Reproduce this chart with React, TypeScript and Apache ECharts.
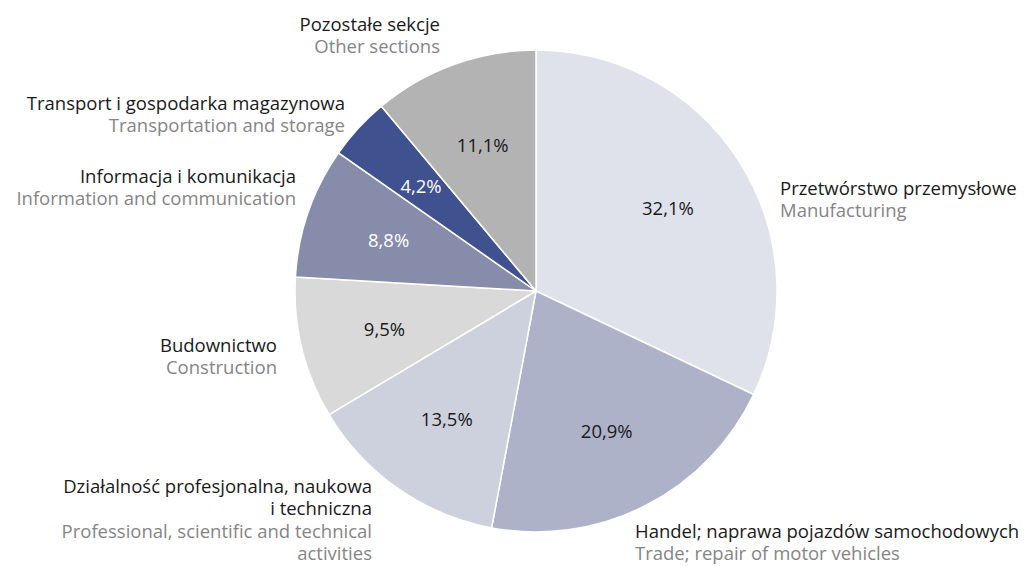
import React, { useEffect, useRef } from "react";
import * as echarts from "echarts";

const namesPl = [
  "Przetwórstwo przemysłowe",
  "Handel; naprawa pojazdów samochodowych",
  "Działalność profesjonalna, naukowa\ni techniczna",
  "Budownictwo",
  "Informacja i komunikacja",
  "Transport i gospodarka magazynowa",
  "Pozostałe sekcje",
];
const namesEn = [
  "Manufacturing",
  "Trade; repair of motor vehicles",
  "Professional, scientific and technical\nactivities",
  "Construction",
  "Information and communication",
  "Transportation and storage",
  "Other sections",
];
const values = [32.1, 20.9, 13.5, 9.5, 8.8, 4.2, 11.1];
const colors = ["#dfe2ea", "#adb2c8", "#cdd1dd", "#d9d9d9", "#868ca9", "#3f518e", "#b3b3b3"];
const pctColors = ["#1a1a1a", "#1a1a1a", "#1a1a1a", "#1a1a1a", "#ffffff", "#ffffff", "#1a1a1a"];

// label block anchors (layout): [x, top y, align]
const labelAnchors: [number, number, string][] = [
  [780, 176, "left"],
  [635, 519, "left"],
  [372, 474, "right"],
  [277, 333, "right"],
  [296, 164, "right"],
  [345, 91, "right"],
  [440, 12, "right"],
];

const FONT = "'Open Sans', sans-serif";

export default function App() {
  const ref = useRef<HTMLDivElement>(null);
  useEffect(() => {
    document.body.style.margin = "0";
    const chart = echarts.init(ref.current!, null, { renderer: "svg" });
    const fmtLines = (s: string, key: string) =>
      s.split("\n").map((l) => `{${key}|${l}}`).join("\n");
    chart.setOption({
      animation: false,
      backgroundColor: "#ffffff",
      series: [
        {
          type: "pie",
          center: [536, 291],
          radius: 241,
          startAngle: 90,
          clockwise: true,
          avoidLabelOverlap: false,
          silent: true,
          itemStyle: { borderColor: "#ffffff", borderWidth: 1.5 },
          labelLine: { show: false },
          label: {
            show: true,
            position: "outside",
            fontFamily: FONT,
            formatter: (p: any) =>
              fmtLines(namesPl[p.dataIndex], "a") + "\n" + fmtLines(namesEn[p.dataIndex], "b"),
            rich: {
              a: { fontFamily: FONT, fontSize: 18.5, color: "#1a1a1a", lineHeight: 22.5 },
              b: { fontFamily: FONT, fontSize: 18.5, color: "#858585", lineHeight: 22.5 },
            },
          },
          labelLayout: (p: any) => {
            const a = labelAnchors[p.dataIndex];
            return { x: a[0], y: a[1], align: a[2], verticalAlign: "top", hideOverlap: false };
          },
          data: values.map((v, i) => ({
            value: v,
            name: namesPl[i],
            itemStyle: { color: colors[i] },
          })),
        },
        {
          type: "pie",
          center: [536, 291],
          radius: 306,
          startAngle: 90,
          clockwise: true,
          avoidLabelOverlap: false,
          silent: true,
          itemStyle: { color: "rgba(0,0,0,0)", borderWidth: 0 },
          labelLine: { show: false },
          label: {
            show: true,
            position: "inside",
            fontFamily: FONT,
            fontSize: 18.5,
            formatter: (p: any) => p.value.toFixed(1).replace(".", ",") + "%",
          },
          data: values.map((v, i) => ({
            value: v,
            name: namesEn[i],
            label: { color: pctColors[i] },
          })),
        },
      ],
    });
    return () => chart.dispose();
  }, []);
  return <div ref={ref} style={{ width: 1029, height: 566 }} />;
}
